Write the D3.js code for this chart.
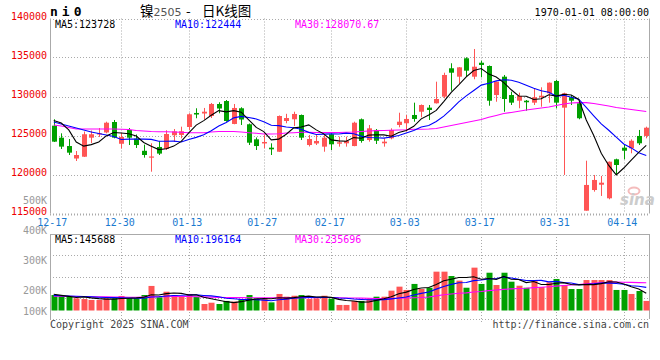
<!DOCTYPE html>
<html><head><meta charset="utf-8">
<script src="https://cdn.jsdelivr.net/npm/d3@7/dist/d3.min.js"></script>
<style>
html,body{margin:0;padding:0;background:#fff;}
svg{display:block;}
text{font-family:"DejaVu Sans Mono",monospace;}
</style></head><body>
<svg id="c" width="660" height="360"></svg>
<script>
const dates = ["12-17","12-18","12-19","12-20","12-23","12-24","12-25","12-26","12-27","12-30",
"12-31","01-02","01-03","01-06","01-07","01-08","01-09","01-10","01-13","01-14",
"01-15","01-16","01-17","01-20","01-21","01-22","01-23","01-24","01-27","02-05",
"02-06","02-07","02-10","02-11","02-12","02-13","02-14","02-17","02-18","02-19",
"02-20","02-21","02-24","02-25","02-26","02-27","02-28","03-03","03-04","03-05",
"03-06","03-07","03-10","03-11","03-12","03-13","03-14","03-17","03-18","03-19",
"03-20","03-21","03-24","03-25","03-26","03-27","03-28","03-31","04-01","04-02",
"04-03","04-07","04-08","04-09","04-10","04-11","04-14","04-15","04-16","04-17"];
const labelDates = ["12-17","12-30","01-13","01-27","02-17","03-03","03-17","03-31","04-14"];

const open = [126260,124720,123650,122050,122280,124720,125160,125390,126730,123940,
125710,124600,123040,122210,123530,123270,125030,125070,126090,127890,
127820,127500,129040,129420,126480,128490,126440,124510,123980,123440,
122920,126860,127080,127630,123780,123980,123570,125160,123950,124000,
123650,127080,124420,125710,124000,124640,126350,126570,127630,128050,
128570,129130,129980,133620,132540,134900,132540,134330,133910,130190,
132540,130190,129460,129460,129210,129900,130410,131990,128570,129900,
129130,115360,118010,118690,116950,121950,123440,123360,124940,124940];
const high = [127080,125280,124550,123010,125510,125640,125960,126770,126990,125320,
125960,125130,123830,124000,124300,125670,125830,126130,127850,128490,
128530,129170,129260,129550,129040,128620,126540,124750,125130,124000,
127570,127780,128050,127690,125070,125070,125070,125280,124850,124850,
126770,127180,126350,125830,124640,125920,127920,127630,129210,128980,
128910,131900,133050,134260,133780,135030,136090,134590,133980,131920,
132760,130620,130490,129550,131050,131180,131800,132120,130490,130190,
129330,121770,119940,119810,121670,122030,123780,124510,125710,126130];
const low = [124170,123270,122500,121730,122240,124040,124810,125280,124640,123330,
123780,123400,122160,120360,122500,123140,124170,124640,125710,127210,
127050,127240,127850,126770,126440,126350,123780,123140,123360,122500,
122890,126570,126220,124420,123590,123780,122920,123140,123570,123570,
123620,124080,124210,123910,123570,124510,126050,125490,126770,127330,
126990,129100,129770,130740,131690,132540,132210,132460,128820,129330,
128050,128910,128490,128180,128910,128690,129210,128490,119940,128910,
127080,115360,117800,117250,116820,119940,121950,122720,123780,124640];
const close = [124210,123570,122800,122500,125160,125160,125280,126640,124720,124810,
124720,123780,122500,122310,122680,125190,125530,125540,127720,127690,
128050,129040,128460,126860,128530,127050,124080,123650,124170,123230,
127500,127240,127760,124720,124550,124300,124720,123870,124130,124300,
126640,124300,125920,124330,124210,125710,126770,127120,127120,128910,
128270,129680,132760,133050,133740,133310,133820,134040,129460,131900,
129680,129210,130070,129260,129900,130100,131770,129210,130410,129460,
127210,118660,119300,118950,121640,121220,123050,124330,124000,126000];
const volume = [131000,123000,123000,103000,97000,89000,89000,103000,103000,123000,
103000,103000,131000,208000,112000,159000,131000,117000,140000,117000,
55000,66000,55000,81000,75000,97000,131000,103000,95000,69000,
140000,117000,125000,131000,97000,103000,125000,100000,47000,47000,
81000,81000,103000,117000,117000,168000,202000,174000,225000,182000,
193000,329000,329000,292000,253000,193000,363000,225000,320000,216000,
320000,244000,210000,193000,258000,199000,239000,267000,216000,182000,
182000,258000,258000,258000,258000,174000,174000,140000,165000,81000];
const ma5 = [126920,126600,125710,124170,123640,123830,124180,124950,125390,125320,
125230,124940,124100,123630,123190,123300,123640,124250,125330,126330,
126910,127600,128190,128030,128190,127990,127000,126040,125500,124440,
124530,125160,125980,126090,126360,125720,125210,124440,124310,124260,
124730,124640,125050,125100,125080,124900,125390,125630,126180,127130,
127640,128220,129350,130540,131500,132510,133330,133590,132870,132500,
131780,130860,130070,130030,129620,129710,130220,130050,130280,130190,
129620,126990,125000,122720,121160,119950,120830,121830,122850,123728];
const ma10 = [126730,126480,126220,125960,125710,125450,125260,125070,124870,124480,
124530,124550,124530,124500,124260,124260,124280,124170,124480,124760,
125100,125620,126220,126680,127260,127450,127300,127120,126760,126310,
126260,126080,126000,125800,125400,125120,125180,125210,125190,125310,
125220,124920,124740,124710,124670,124810,125010,125330,125640,126100,
126270,126800,127490,128360,129310,130080,130770,131460,131710,132000,
132140,132090,131820,131450,131050,130740,130540,130050,130150,129900,
129660,128600,127530,126500,125670,124780,123910,123410,122780,122444];
const ma30 = [126350,126220,126030,125830,125830,125830,125830,125830,125830,125800,
125770,125640,125580,125510,125490,125490,125450,125410,125360,125360,
125360,125450,125510,125510,125510,125450,125360,125280,125190,125190,
125230,125320,125360,125410,125410,125390,125390,125390,125390,125420,
125450,125510,125580,125620,125640,125680,125710,125740,125800,125810,
125830,125900,126090,126280,126480,126670,126860,127050,127330,127570,
127820,127950,128100,128270,128400,128530,128660,128850,129040,129170,
129210,129210,129100,128950,128780,128590,128460,128330,128210,128070.67];
const volMa5 = [137000,128000,120000,110000,115400,107000,100200,96200,96200,101400,
104200,107000,112600,133600,131400,142600,148200,145400,131800,132800,
112000,99000,86600,74800,66400,74800,87800,97400,100200,99000,
107600,104800,109200,116400,122000,114600,116200,111200,94400,84400,
80000,71200,71800,85800,99800,117200,141400,155600,177200,190200,
195200,220600,251600,265000,279200,279200,286000,265200,270800,263400,
288800,265000,262000,236600,245000,220800,219800,231200,235800,220600,
217200,221000,219200,227600,242800,241200,224400,200800,182200,145688];
const volMa10 = [128000,125000,123000,121000,118000,115000,112000,110000,109000,108400,
105600,103600,104400,114900,116400,123400,127600,129000,132700,132100,
127300,123600,116000,103300,99600,93400,93400,92000,87500,82700,
91200,96300,103300,108300,110500,111100,110500,110200,105400,103200,
97300,93700,91500,90100,92100,98600,106300,113700,131500,145000,
156200,181000,203600,221100,234700,237200,253300,258400,267900,271300,
284000,275500,263600,253700,254200,254800,242400,246600,236200,232800,
219000,220400,225200,231700,231700,229200,222700,210000,204900,196164];
const volMa30 = [122000,121000,120000,119000,118000,117000,116000,115000,114000,113000,
112000,112000,113000,115000,116000,117000,118000,118000,118000,117000,
115000,113000,111000,110000,109000,109000,108000,108000,108000,107700,
108000,107800,107900,108800,108800,109300,110500,110400,108500,106000,
105300,104500,103600,100600,100700,101000,103400,105300,108100,110300,
114900,123700,132800,139800,145800,149000,156700,160800,168300,173200,
179200,183400,186200,188300,193700,196900,200700,206200,211900,216400,
219700,225600,230800,235500,240200,240400,239500,238300,236300,235696];
const priceTicks = [140000,135000,130000,125000,120000,115000];
const volTicks = [500000,400000,300000,200000,100000];

const RED = "#ff5555", GREEN = "#00a000", GRID = "#aaaaaa";
const svg = d3.select("#c");
const PL = 50, PR = 650, PT = 18.5, PB = 213.5, VT = 234, VB = 319;
const x = d3.scaleBand().domain(dates).range([PL, PR]);
const cx = d => x(d) + x.bandwidth() / 2;
const y = d3.scaleLinear().domain([115000, 140000]).range([PB, PT]);
const yv = d3.scaleLinear().domain([0, 648000]).range([310.5, VT]);
const yvLab = d3.scaleLinear().domain([0, 500000]).range([350.5, 200.5]);

const g = svg.append("g");
g.selectAll(".hg").data(priceTicks).enter().append("line")
  .attr("x1", PL).attr("x2", PR)
  .attr("y1", d => Math.round(y(d)) + 0.5).attr("y2", d => Math.round(y(d)) + 0.5)
  .attr("stroke", GRID).attr("stroke-dasharray", "1,2")
  .attr("stroke-width", d => d === 115000 ? 2 : 1);
[1, 2, 3].forEach(k => {
  const yy = Math.round(VT + (VB - VT) * k / 4) + 0.5;
  g.append("line").attr("x1", PL).attr("x2", PR).attr("y1", yy).attr("y2", yy)
    .attr("stroke", GRID).attr("stroke-dasharray", "1,2");
});
g.append("line").attr("x1", PL).attr("x2", PR).attr("y1", VB + 0.5).attr("y2", VB + 0.5)
  .attr("stroke", GRID).attr("stroke-dasharray", "1,2");
labelDates.forEach(d => {
  const xx = Math.round(cx(d)) + 0.5;
  if (d === dates[0]) return;
  g.append("line").attr("x1", xx).attr("x2", xx).attr("y1", PT).attr("y2", PB)
    .attr("stroke", GRID).attr("stroke-dasharray", "1,2");
  g.append("line").attr("x1", xx).attr("x2", xx).attr("y1", VT).attr("y2", VB + 3)
    .attr("stroke", GRID).attr("stroke-dasharray", "1,2");
});
[[PL + 0.5, PT, PL + 0.5, PB], [PR - 0.5, PT, PR - 0.5, PB],
 [PL + 0.5, VT, PL + 0.5, VB], [PR - 0.5, VT, PR - 0.5, VB], [PL, VT + 0.5, PR, VT + 0.5]]
  .forEach(a => g.append("line").attr("x1", a[0]).attr("y1", a[1]).attr("x2", a[2]).attr("y2", a[3])
    .attr("stroke", GRID));

// sina watermark
const wm = svg.append("g");
wm.append("ellipse").attr("cx", 634).attr("cy", 191).attr("rx", 5.5).attr("ry", 3.5)
  .attr("fill", "none").attr("stroke", "#f4bcbc").attr("stroke-width", 2);
wm.append("text").attr("x", 620).attr("y", 205).attr("font-size", 15).attr("font-weight", "bold")
  .attr("font-style", "italic").attr("fill", "#cccccc")
  .style("font-family", "'DejaVu Sans',sans-serif").text("sina");

const candles = svg.append("g");
dates.forEach((d, i) => {
  const up = close[i] >= open[i];
  const col = up ? RED : GREEN;
  const xx = Math.round(cx(d));
  candles.append("line").attr("x1", xx + 0.5).attr("x2", xx + 0.5)
    .attr("y1", y(high[i])).attr("y2", y(low[i])).attr("stroke", col);
  const top = y(Math.max(open[i], close[i])), bot = y(Math.min(open[i], close[i]));
  candles.append("rect").attr("x", xx - 2).attr("width", 5)
    .attr("y", top).attr("height", Math.max(1.2, bot - top)).attr("fill", col);
});
const vb = svg.append("g");
dates.forEach((d, i) => {
  const up = close[i] >= open[i];
  const xx = Math.round(cx(d));
  vb.append("rect").attr("x", xx - 2.5).attr("width", 6)
    .attr("y", yv(volume[i])).attr("height", yv(0) - yv(volume[i]))
    .attr("fill", up ? RED : GREEN);
});

function drawLine(arr, scale, col) {
  const ln = d3.line().x((v, i) => cx(dates[i])).y(v => scale(v));
  svg.append("path").datum(arr).attr("d", ln).attr("fill", "none")
    .attr("stroke", col).attr("stroke-width", 1.1);
}
drawLine(ma30, y, "#ff00ff");
drawLine(ma10, y, "#0000ff");
drawLine(ma5, y, "#000000");
drawLine(volMa30, yv, "#ff00ff");
drawLine(volMa10, yv, "#0000ff");
drawLine(volMa5, yv, "#000000");

const ax = svg.append("g").attr("font-size", 10);
ax.selectAll(".pl").data(priceTicks).enter().append("text")
  .attr("x", 47).attr("y", d => y(d) - 2.5).attr("dominant-baseline", "central")
  .attr("text-anchor", "end").attr("fill", "#ee0000").text(d => d);
ax.selectAll(".vl").data(volTicks).enter().append("text")
  .attr("x", 47).attr("y", d => Math.min(yvLab(d), 311.3)).attr("dominant-baseline", "central")
  .attr("text-anchor", "end").attr("fill", "#999999").text(d => (d / 1000) + "K");
ax.selectAll(".dl").data(labelDates).enter().append("text")
  .attr("x", d => cx(d) - 1.5).attr("y", 225.5).attr("text-anchor", "middle")
  .attr("fill", "#1a7ad0").text(d => d);

const fmt = v => String(v);
const leg = svg.append("g").attr("font-size", 10);
leg.append("text").attr("x", 55).attr("y", 27.5).attr("fill", "#000").text("MA5:" + fmt(ma5[ma5.length - 1]));
leg.append("text").attr("x", 175).attr("y", 27.5).attr("fill", "#0000ff").text("MA10:" + fmt(ma10[ma10.length - 1]));
leg.append("text").attr("x", 295).attr("y", 27.5).attr("fill", "#ff00ff").text("MA30:" + fmt(ma30[ma30.length - 1]));
leg.append("text").attr("x", 55).attr("y", 242.5).attr("fill", "#000").text("MA5:" + fmt(volMa5[volMa5.length - 1]));
leg.append("text").attr("x", 175).attr("y", 242.5).attr("fill", "#0000ff").text("MA10:" + fmt(volMa10[volMa10.length - 1]));
leg.append("text").attr("x", 295).attr("y", 242.5).attr("fill", "#ff00ff").text("MA30:" + fmt(volMa30[volMa30.length - 1]));

svg.append("text").attr("x", 50).attr("y", 16).attr("font-size", 13).attr("font-weight", "bold")
  .attr("letter-spacing", 4).attr("fill", "#000").text("ni0");
const t = svg.append("text").attr("y", 16).attr("font-size", 13.5).attr("fill", "#000")
  .style("font-family", "'Noto Sans CJK SC',sans-serif");
t.append("tspan").attr("x", 140).text("镍");
t.append("tspan").attr("fill", "#555").style("font-family", "'DejaVu Sans',sans-serif").attr("font-size", 11).text("2505");
t.append("tspan").attr("x", 186).text("-");
t.append("tspan").attr("x", 202).text("日K线图");
svg.append("text").attr("x", 649).attr("y", 15.5).attr("font-size", 10).attr("text-anchor", "end")
  .attr("fill", "#000").text("1970-01-01 08:00:00");
svg.append("text").attr("x", 50).attr("y", 328).attr("font-size", 10).attr("fill", "#444")
  .text("Copyright 2025 SINA.COM");
svg.append("text").attr("x", 649).attr("y", 328).attr("font-size", 10).attr("text-anchor", "end")
  .attr("fill", "#444").text("http://finance.sina.com.cn");
</script>
</body></html>
